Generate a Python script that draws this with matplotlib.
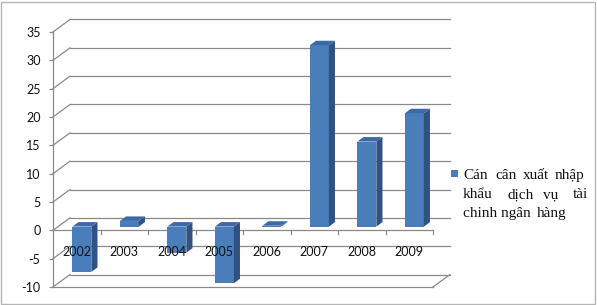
import matplotlib
matplotlib.use('Agg')
import matplotlib.pyplot as plt
from matplotlib.patches import Polygon, Rectangle

# ---- data ----
years = ['2002', '2003', '2004', '2005', '2006', '2007', '2008', '2009']
values = [-8, 1, -4.6, -10, 0.15, 32, 15, 20]
y_ticks = [-10, -5, 0, 5, 10, 15, 20, 25, 30, 35]
legend_lines = [['Cán', 'cân', 'xuất', 'nhập'],
                ['khẩu', 'dịch', 'vụ', 'tài'],
                ['chinh ngân', 'hàng']]

W, H = 597, 305
fig = plt.figure(figsize=(W / 100, H / 100), dpi=100)
fig.patch.set_facecolor('white')

# axes: front plane of the 3D box
ax = fig.add_axes([53 / W, (H - 287) / H, 380 / W, 255 / H])
ax.set_xlim(-0.5, len(years) - 0.5)
ax.set_ylim(y_ticks[0], y_ticks[-1])
ax.patch.set_visible(False)

px_x = 380 / len(years)          # pixels per category
px_y = 255 / (y_ticks[-1] - y_ticks[0])  # pixels per unit
wall_dx = 17 / px_x
wall_dy = 12.5 / px_y

grid_c = '#8a8a8a'
x0, x1 = -0.5, len(years) - 0.5

# back wall gridlines + side-wall diagonals
for t in y_ticks:
    ax.plot([x0 + wall_dx, x1 + wall_dx], [t + wall_dy, t + wall_dy],
            color=grid_c, lw=0.9, clip_on=False, zorder=1)
    ax.plot([x0, x0 + wall_dx], [t, t + wall_dy],
            color=grid_c, lw=0.9, clip_on=False, zorder=1)

# floor front edge and right diagonal
ymin = y_ticks[0]
ax.plot([x0, x1], [ymin, ymin], color=grid_c, lw=0.9, clip_on=False, zorder=1)
ax.plot([x1, x1 + wall_dx], [ymin, ymin + wall_dy], color=grid_c, lw=0.9,
        clip_on=False, zorder=1)

# category axis at 0 with tick marks
ax.plot([x0, x1], [0, 0], color=grid_c, lw=0.9, clip_on=False, zorder=1)
for k in range(1, len(years) + 1):
    ax.plot([x0 + k, x0 + k], [0, -4 / px_y], color=grid_c, lw=0.9,
            clip_on=False, zorder=1)

# bars (3D look)
front_c = '#4a7ebb'
side_c = '#2f5282'
top_c = '#3d6aa6'
bw = 0.4
fdx, fdy = 0.3 * wall_dx, 0.3 * wall_dy
ddx, ddy = 0.36 * wall_dx, 0.36 * wall_dy
xs = list(range(len(years)))
centers = [i + fdx for i in xs]
ax.bar(centers, values, width=bw, bottom=fdy, color=front_c,
       edgecolor='none', zorder=3, clip_on=False)
for c, v in zip(centers, values):
    ya, yb = fdy, v + fdy
    lo, hi = min(ya, yb), max(ya, yb)
    xr = c + bw / 2
    side = Polygon([(xr, lo), (xr, hi), (xr + ddx, hi + ddy), (xr + ddx, lo + ddy)],
                   closed=True, facecolor=side_c, edgecolor='none', zorder=3,
                   clip_on=False)
    top = Polygon([(c - bw / 2, hi), (xr, hi), (xr + ddx, hi + ddy),
                   (c - bw / 2 + ddx, hi + ddy)],
                  closed=True, facecolor=top_c, edgecolor='none', zorder=3,
                  clip_on=False)
    ax.add_patch(side)
    ax.add_patch(top)

# category labels
for i, yr in enumerate(years):
    ax.text(i, -3.75, yr, ha='center', va='center', fontsize=9,
            family=['Lato', 'DejaVu Sans'], color='#111111', zorder=5)

# y axis
for s in ['top', 'right', 'bottom']:
    ax.spines[s].set_visible(False)
ax.spines['left'].set_color(grid_c)
ax.spines['left'].set_linewidth(0.9)
ax.set_xticks([])
ax.set_yticks(y_ticks)
ax.set_yticklabels([str(t) for t in y_ticks], family=['Lato', 'DejaVu Sans'],
                   fontsize=9, color='#111111')
ax.tick_params(axis='y', length=3, width=0.9, color=grid_c, pad=6)

# legend (manual, justified)
fig.patches.append(Rectangle((451 / W, (H - 177) / H), 7 / W, 7 / H,
                             transform=fig.transFigure, facecolor=front_c,
                             edgecolor='none'))
word_x = [[463, 495, 523, 555], [463, 507, 543, 573], [463, 537]]
baselines = [179, 198, 217]
for words, xsw, yb in zip(legend_lines, word_x, baselines):
    for w, xw in zip(words, xsw):
        fig.text(xw / W, (H - yb) / H, w, ha='left', va='baseline',
                 fontsize=11, family=['Liberation Serif', 'DejaVu Serif'],
                 color='#111111')

# chart border
fig.patches.append(Rectangle((1 / W, 1 / H), (W - 3) / W, (H - 3) / H,
                             transform=fig.transFigure, facecolor='none',
                             edgecolor='#b5b5b5', lw=1))

fig.savefig('out.png', dpi=100)
